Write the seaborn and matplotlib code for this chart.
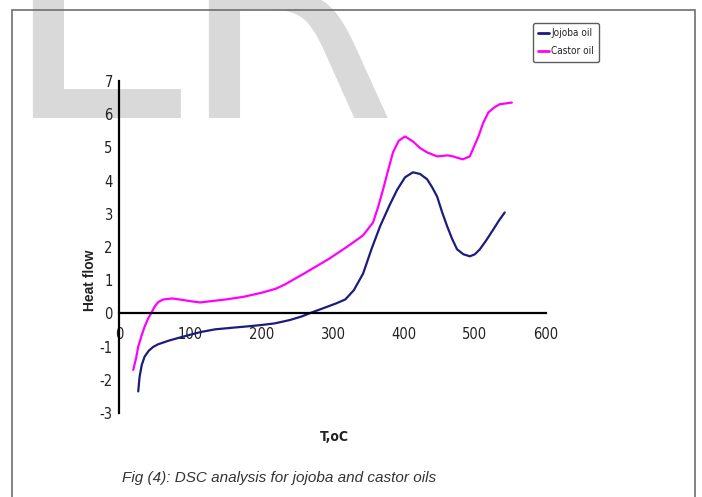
import matplotlib
matplotlib.use("Agg")
import matplotlib.pyplot as plt
import seaborn as sns
import pandas as pd
from matplotlib.patches import Rectangle
from matplotlib import font_manager as fm

# ---- data ----
jojoba_T = [27, 29, 32, 36, 42, 48, 55, 70, 85, 97, 115, 135, 160, 181, 200, 219,
            240, 257, 271, 290, 305, 318, 330, 343, 355, 367, 380, 391, 402, 413,
            423, 433, 440, 447, 454, 461, 468, 475, 484, 493, 500, 507, 516, 526,
            534, 542]
jojoba_hf = [-2.35, -1.9, -1.55, -1.3, -1.12, -1.01, -0.93, -0.82, -0.73, -0.66,
             -0.56, -0.48, -0.43, -0.39, -0.35, -0.3, -0.2, -0.09, 0.03, 0.18, 0.3,
             0.42, 0.7, 1.2, 1.95, 2.63, 3.25, 3.73, 4.1, 4.25, 4.2, 4.04, 3.8, 3.52,
             3.05, 2.63, 2.25, 1.93, 1.78, 1.72, 1.78, 1.93, 2.2, 2.53, 2.8, 3.04]

castor_T = [20, 24, 27, 32, 36, 41, 45, 50, 55, 62, 75, 85, 100, 114, 130, 150, 175,
            200, 220, 233, 260, 294, 320, 343, 357, 364, 371, 378, 385, 393, 402,
            413, 423, 433, 447, 462, 469, 483, 493, 505, 512, 519, 527, 535, 552]
castor_hf = [-1.7, -1.35, -1.0, -0.65, -0.4, -0.15, 0.0, 0.2, 0.34, 0.42, 0.45, 0.42,
             0.37, 0.33, 0.37, 0.42, 0.5, 0.62, 0.74, 0.87, 1.2, 1.63, 2.0, 2.35,
             2.74, 3.2, 3.73, 4.3, 4.85, 5.2, 5.33, 5.18, 4.98, 4.85, 4.73, 4.76,
             4.73, 4.64, 4.73, 5.33, 5.75, 6.05, 6.2, 6.3, 6.35]

series_names = ["Jojoba oil", "Castor oil"]
series_colors = ["#1c1c7a", "#ff00ff"]
x_ticks = [0, 100, 200, 300, 400, 500, 600]
y_ticks = [-3, -2, -1, 0, 1, 2, 3, 4, 5, 6, 7]
x_label = "T,oC"
y_label = "Heat flow"
caption = "Fig (4): DSC analysis for jojoba and castor oils"
watermark = ["E", "R"]

df = pd.concat([
    pd.DataFrame({"T": jojoba_T, "hf": jojoba_hf, "oil": series_names[0]}),
    pd.DataFrame({"T": castor_T, "hf": castor_hf, "oil": series_names[1]}),
])

sns.set_theme(style="white")
plt.rcParams["font.family"] = ["Liberation Sans", "DejaVu Sans"]
plt.rcParams["axes.unicode_minus"] = False


def find_font(name, must, avoid):
    for f in fm.fontManager.ttflist:
        fn = f.fname.lower()
        if f.name == name and all(m in fn for m in must) and not any(a in fn for a in avoid):
            return f.fname
    return None


cond_path = find_font("DejaVu Sans", ["condensed"], ["bold", "oblique"])
cond_bold_path = find_font("DejaVu Sans", ["condensed", "bold"], ["oblique"])


def cprop(size, bold=False):
    p = cond_bold_path if bold else cond_path
    if p:
        return fm.FontProperties(fname=p, size=size)
    return fm.FontProperties(family="DejaVu Sans", size=size,
                             weight="bold" if bold else "normal")


W, H = 702, 497
fig = plt.figure(figsize=(W / 100, H / 100), dpi=100)
fig.patch.set_facecolor("white")

# watermark (faint grey letters cut off at the top)
wm_prop = cprop(252)
fig.text(1 / W, 1 - 118 / H, watermark[0], fontproperties=wm_prop, color="#d9d9d9",
         va="baseline", ha="left", zorder=0)
fig.text(177 / W, 1 - 118 / H, watermark[1], fontproperties=wm_prop, color="#d9d9d9",
         va="baseline", ha="left", zorder=0)

# outer frame
fig.add_artist(Rectangle((12 / W, -0.1), 683 / W, 1.1 - 9.5 / H,
                         transform=fig.transFigure, fill=False,
                         edgecolor="#6e6e6e", linewidth=1.2, zorder=1))

ax = fig.add_axes([119 / W, 1 - 413 / H, (546 - 119) / W, (413 - 81) / H])
ax.patch.set_alpha(0)
ax.set_zorder(2)

sns.lineplot(data=df, x="T", y="hf", hue="oil", palette=series_colors,
             hue_order=series_names, sort=False, linewidth=1.6, ax=ax,
             legend=True, estimator=None)

ax.set_xlim(0, 600)
ax.set_ylim(-3, 7)
ax.set_xticks(x_ticks)
ax.set_yticks(y_ticks)
for s in ["top", "right"]:
    ax.spines[s].set_visible(False)
ax.spines["bottom"].set_position(("data", 0))
for s in ["left", "bottom"]:
    ax.spines[s].set_color("black")
    ax.spines[s].set_linewidth(1.6)
ax.tick_params(axis="both", direction="inout", length=5, width=1.4,
               colors="black", labelcolor="#222222")
ax.tick_params(axis="x", pad=7)
ax.tick_params(axis="y", pad=2)
for lab in ax.get_xticklabels() + ax.get_yticklabels():
    lab.set_fontproperties(cprop(10.5))

ax.set_xlabel("")
ax.set_ylabel("")
fig.text(334 / W, 1 - 437 / H, x_label, ha="center", va="center",
         fontproperties=cprop(10, bold=True), color="#222222")
fig.text(90 / W, 1 - 280 / H, y_label, ha="center", va="center", rotation=90,
         fontsize=10, fontweight="bold", family=["Liberation Sans", "DejaVu Sans"],
         color="#222222")

leg = ax.legend(loc="upper left", bbox_to_anchor=(533 / W, 1 - 23 / H),
                bbox_transform=fig.transFigure, frameon=True,
                prop=cprop(7.2), handlelength=1.1, handletextpad=0.2,
                borderpad=0.5, labelspacing=0.85, borderaxespad=0, fancybox=True)
leg.get_frame().set_edgecolor("#333333")
leg.get_frame().set_linewidth(1.0)
for t in leg.get_texts():
    t.set_color("#222222")
for l in leg.get_lines():
    l.set_linewidth(2)

fig.text(122 / W, 1 - 478 / H, caption, ha="left", va="center", fontsize=11,
         style="italic", family=["Liberation Sans", "DejaVu Sans"], color="#333333")

fig.savefig("out.png", dpi=100)
